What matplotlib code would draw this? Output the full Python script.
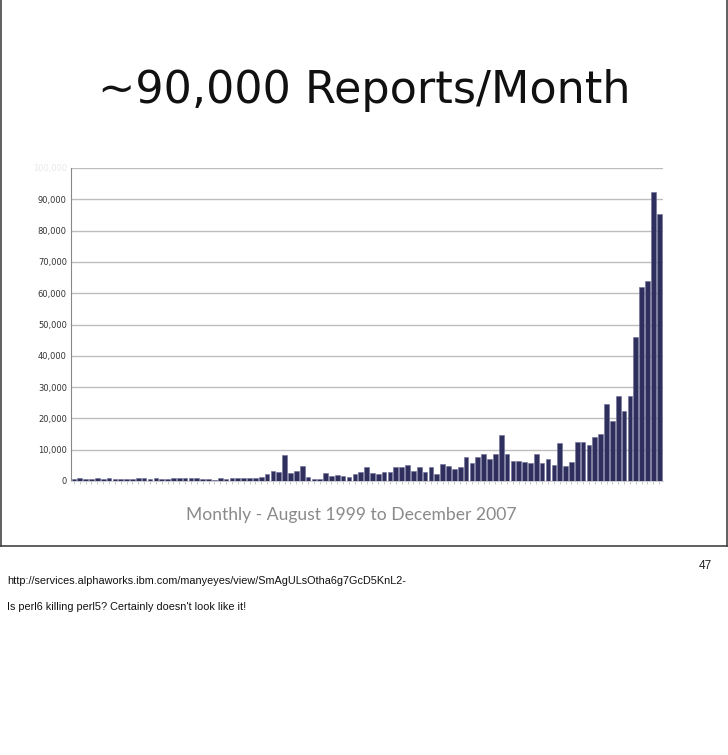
import matplotlib
matplotlib.use("Agg")
import matplotlib.pyplot as plt
from matplotlib.lines import Line2D
from matplotlib.ticker import FuncFormatter

# monthly report counts, August 1999 .. December 2007 (101 months)
reports = [
    550, 850, 650, 750, 850, 750, 850, 750, 750, 750,
    750, 850, 850, 650, 850, 650, 550, 850, 1050, 850,
    1050, 1050, 650, 500, 400, 850, 650, 1050, 850, 1100,
    800, 800, 1300, 2340, 3300, 2980, 8400, 2660, 3300, 4890,
    1380, 600, 600, 2660, 1700, 2020, 1700, 1380, 2340, 2980,
    4570, 2660, 2340, 2980, 2980, 4570, 4570, 5210, 3300, 4570,
    2980, 4570, 2340, 5450, 4860, 3740, 4490, 7740, 5910, 7740,
    8490, 7100, 8600, 14850, 8710, 6450, 6450, 6130, 5910, 8710,
    5910, 7100, 5160, 12150, 4800, 5970, 12360, 12560, 11500, 14150,
    14920, 24600, 19070, 27250, 22270, 27160, 46000, 62000, 63900, 92300,
    85300,
]
y_ticks = [0, 10000, 20000, 30000, 40000, 50000, 60000, 70000, 80000, 90000, 100000]

title = "~90,000 Reports/Month"
subtitle = "Monthly - August 1999 to December 2007"
slide_no = "47"
note_url = "http://services.alphaworks.ibm.com/manyeyes/view/SmAgULsOtha6g7GcD5KnL2-"
note_text = "Is perl6 killing perl5? Certainly doesn't look like it!"

fig = plt.figure(figsize=(7.28, 7.55), dpi=100)

# slide frame
frame_y = 1 - 546 / 755
fig.add_artist(Line2D([0.0007, 0.0007], [frame_y, 1], color="#444444", lw=1.2))
fig.add_artist(Line2D([0.9993, 0.9993], [frame_y, 1], color="#444444", lw=1.2))
fig.add_artist(Line2D([0, 1], [frame_y, frame_y], color="#444444", lw=1.2))

fig.text(0.5, 1 - 90 / 755, title, ha="center", va="center",
         fontsize=32, color="#111111", family="DejaVu Sans")

ax = fig.add_axes([71 / 728, 1 - 481 / 755, (662.7 - 71) / 728, (481 - 168) / 755])
ax.bar(range(len(reports)), reports, width=0.8, color="#2e2f5c",
       edgecolor="#6e6e98", linewidth=0.4, zorder=3)
ax.set_xlim(-0.5, 100.6)
ax.set_ylim(0, 100000)
ax.set_yticks(y_ticks)
ax.yaxis.set_major_formatter(FuncFormatter(lambda v, p: f"{int(v):,}"))
ax.grid(axis="y", color="#bdbdbd", lw=1, zorder=0)
ax.set_xticks(range(len(reports)))
ax.set_xticklabels([])
ax.tick_params(axis="x", length=2, width=0.6, color="#bbbbbb")
ax.tick_params(axis="y", length=0, pad=3, labelsize=6, labelcolor="#333333")
ax.get_yticklabels()[-1].set_color("#e8e8e8")
for s in ["top", "right"]:
    ax.spines[s].set_visible(False)
ax.spines["left"].set_color("#888888")
ax.spines["bottom"].set_color("#cccccc")

fig.text(351 / 728, 1 - 515 / 755, subtitle, ha="center", va="center",
         fontsize=12.6, color="#8a8a8a", family="Lato")

fig.text(712 / 728, 1 - 566 / 755, slide_no, ha="right", va="center",
         fontsize=8.5, color="#222222", family="Liberation Sans")
fig.text(7 / 728, 1 - 581 / 755, note_url, ha="left", va="center",
         fontsize=7.8, color="#111111", family="Liberation Sans")
fig.text(7 / 728, 1 - 607 / 755, note_text, ha="left", va="center",
         fontsize=7.8, color="#111111", family="Liberation Sans")

fig.savefig("out.png", dpi=100)
